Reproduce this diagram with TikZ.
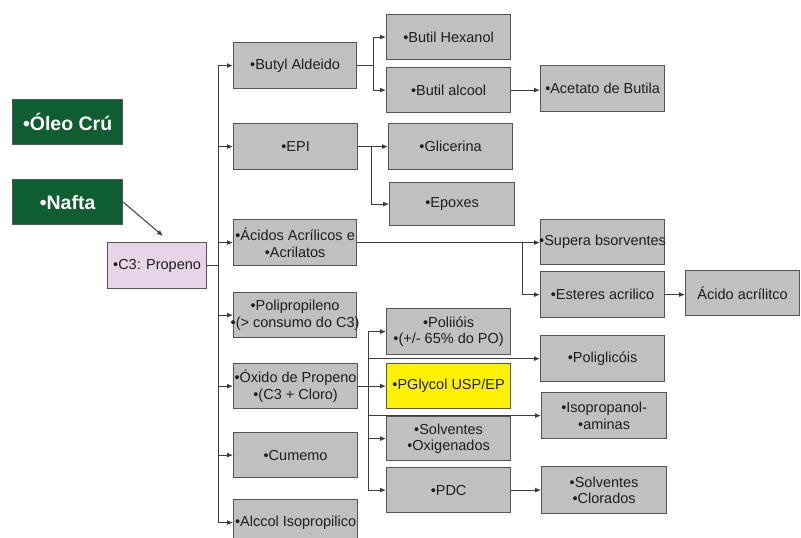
\documentclass[tikz,border=0pt]{standalone}
\usepackage{fontspec}
\setmainfont{Liberation Sans}
\usetikzlibrary{arrows.meta}
\definecolor{boxgray}{RGB}{192,192,192}
\definecolor{edgegray}{RGB}{85,85,85}
\definecolor{darkgreen}{RGB}{14,94,50}
\definecolor{pinkbox}{RGB}{232,212,232}
\definecolor{linegray}{RGB}{60,60,60}
\definecolor{txtgray}{RGB}{30,30,30}
\begin{document}
\begin{tikzpicture}[x=1pt,y=1pt,
  gbox/.style={draw=edgegray, line width=1.2pt, fill=boxgray, inner sep=0pt,
    align=center, anchor=north west, text=txtgray,
    font=\fontsize{14.5}{16.5}\selectfont},
  greenbox/.style={gbox, fill=darkgreen, draw=edgegray, text=white,
    font=\bfseries\fontsize{19.5}{22}\selectfont},
  pinkb/.style={gbox, fill=pinkbox},
  yellowb/.style={gbox, fill=yellow},
  sz/.style 2 args={minimum width=#1pt, minimum height=#2pt},
  arr/.style={draw=linegray, line width=1pt, -{Latex[length=6pt,width=5pt]}},
  ln/.style={draw=linegray, line width=1pt}
]
\useasboundingbox (0,0) rectangle (801,-538);
\clip (0,0) rectangle (801,-538);
\fill[white] (0,0) rectangle (801,-538);

% left boxes
\node[greenbox, sz={110}{45}] (oleo) at (12,-99) {•Óleo Crú};
\node[greenbox, sz={110}{45}] (nafta) at (12,-179) {•Nafta};
\node[pinkb, sz={99}{46}] (c3) at (107,-242) {•C3: Propeno};

% first column
\node[gbox, sz={123}{46}] (bal) at (233,-42) {•Butyl Aldeido};
\node[gbox, sz={124}{46}] (epi) at (233,-123) {•EPI};
\node[gbox, sz={123}{46}] (acid) at (233,-219) {\makebox[0pt]{•Ácidos Acrílicos e}\\\makebox[0pt]{•Acrilatos}};
\node[gbox, sz={123}{45}] (polp) at (233,-292) {\makebox[0pt]{•Polipropileno}\\\makebox[0pt]{•(> consumo do C3)}};
\node[gbox, sz={124}{45}] (oxi) at (233,-363) {\makebox[0pt]{•Óxido de Propeno}\\\makebox[0pt]{•(C3 + Cloro)}};
\node[gbox, sz={124}{45}] (cum) at (233,-432) {•Cumemo};
\node[gbox, sz={124}{46}] (alc) at (233,-499) {\makebox[0pt]{•Alccol Isopropilico}};

% second column
\node[gbox, sz={124}{45}] (bhex) at (386,-14) {•Butil Hexanol};
\node[gbox, sz={124}{45}] (balc) at (386,-67) {•Butil alcool};
\node[gbox, sz={124}{46}] (glic) at (388,-123) {•Glicerina};
\node[gbox, sz={125}{43}] (epox) at (389,-182) {•Epoxes};
\node[gbox, sz={124}{46}] (poli) at (386,-308) {•Poliióis\\•(+/- 65\% do PO)};
\node[yellowb, sz={124}{45}] (pgl) at (386,-363) {•PGlycol USP/EP};
\node[gbox, sz={124}{44}] (solox) at (386,-416) {•Solventes\\•Oxigenados};
\node[gbox, sz={124}{45}] (pdc) at (386,-467) {•PDC};

% third column
\node[gbox, sz={124}{46}] (acet) at (540,-65) {\makebox[0pt]{•Acetato de Butila}};
\node[gbox, sz={124}{45}] (sup) at (540,-219) {\makebox[0pt]{•Supera bsorventes}};
\node[gbox, sz={124}{46}] (est) at (540,-271) {•Esteres acrilico};
\node[gbox, sz={124}{46}] (pglc) at (540,-335) {•Poliglicóis};
\node[gbox, sz={125}{46}] (isop) at (541,-392) {•Isopropanol-\\•aminas};
\node[gbox, sz={125}{47}] (solcl) at (541,-466) {•Solventes\\•Clorados};

% fourth column
\node[gbox, sz={114}{45}] (aac) at (685,-270) {Ácido acrílitco};

% connectors
\coordinate (c3in) at (163,-236);
\draw[arr] (nafta.east) -- (c3in);

\foreach \t in {bal,epi,acid,polp,oxi,cum,alc}
  \draw[arr] (c3.east) -- ++(11,0) |- (\t.west);

\draw[arr] (bal.east) -- ++(16,0) |- (bhex.west);
\draw[arr] (bal.east) -- ++(16,0) |- (balc.west);
\draw[arr] (balc.east) -- (balc.east -| acet.west);

\draw[arr] (epi.east) -- ++(13,0) |- (glic.west);
\draw[arr] (epi.east) -- ++(13,0) |- (epox.west);

\draw[arr] (acid.east) -- (acid.east -| sup.west);
\draw[arr] (acid.east) -- ++(165,0) |- (est.west);
\draw[arr] (est.east) -- (est.east -| aac.west);

\draw[arr] (oxi.east) -- (oxi.east -| pgl.west);
\draw[arr] (oxi.east) -- ++(10,0) |- (poli.west);
\draw[arr] (oxi.east) -- ++(10,0) |- (solox.west);
\draw[arr] (oxi.east) -- ++(10,0) |- (pdc.west);
\draw[arr] (oxi.east) -- ++(10,0) |- (pglc.west);
\draw[arr] (oxi.east) -- ++(10,0) |- (isop.west);

\draw[arr] (pdc.east) -- (pdc.east -| solcl.west);
\end{tikzpicture}
\end{document}
